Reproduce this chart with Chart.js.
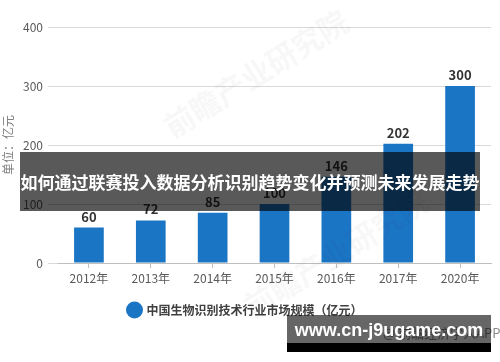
<!DOCTYPE html>
<html>
<head>
<meta charset="utf-8">
<script src="https://cdn.jsdelivr.net/npm/chart.js@4"></script>
<style>
  html,body{margin:0;padding:0;background:#fff;}
  #wrap{position:relative;width:500px;height:362px;overflow:hidden;font-family:"Noto Sans CJK SC","Noto Sans",sans-serif;}
  canvas{position:absolute;left:0;top:0;}
  .wm{position:absolute;color:rgba(0,0,0,0.03);font-weight:bold;font-size:30px;transform:rotate(-32deg);white-space:nowrap;}
  #banner{position:absolute;left:20px;top:152px;width:460px;height:59px;background:rgba(0,0,0,0.65);color:#fff;font-weight:bold;font-size:17px;line-height:59px;text-align:center;white-space:nowrap;}
  #src{position:absolute;left:383px;top:323px;color:#8a8a8a;font-size:13px;white-space:nowrap;}
  #site{position:absolute;left:287px;top:315px;width:204px;height:28px;background:rgba(0,0,0,0.6);color:#fff;font-family:"Liberation Sans",Arial,sans-serif;font-weight:bold;font-size:18px;line-height:30px;text-align:center;}
  #strip{position:absolute;left:287px;top:343px;width:204px;height:9px;background:#000;}
</style>
</head>
<body>
<div id="wrap">
  <canvas id="c" width="500" height="362"></canvas>
  <div class="wm" style="left:150px;top:50px;">前瞻产业研究院</div>
  <div class="wm" style="left:230px;top:230px;">前瞻产业研究院</div>
  <div id="banner">如何通过联赛投入数据分析识别趋势变化并预测未来发展走势</div>
  <div id="src">@ 前瞻经济学人APP</div>
  <div id="site">www.cn-j9ugame.com</div>
  <div id="strip"></div>
</div>
<script>
const categories = ['2012年','2013年','2014年','2015年','2016年','2017年','2020年'];
const marketSize = [60, 72, 85, 100, 146, 202, 300];
const seriesName = '中国生物识别技术行业市场规模（亿元）';
const yAxisTitle = '单位：亿元';
const yMin = 0, yMax = 400, yStep = 100;

const FONT = '"Noto Sans CJK SC","Noto Sans",sans-serif';

const valueLabels = {
  id: 'valueLabels',
  afterDatasetsDraw(chart) {
    const ctx = chart.ctx;
    const meta = chart.getDatasetMeta(0);
    ctx.save();
    ctx.font = 'bold 13px ' + FONT;
    ctx.fillStyle = '#333333';
    ctx.textAlign = 'center';
    ctx.textBaseline = 'middle';
    meta.data.forEach((bar, i) => {
      ctx.fillText(String(chart.data.datasets[0].data[i]), bar.x, bar.y - 11);
    });
    ctx.restore();
  }
};

new Chart(document.getElementById('c'), {
  type: 'bar',
  data: {
    labels: categories,
    datasets: [{
      label: seriesName,
      data: marketSize,
      backgroundColor: '#1B75C5',
      borderWidth: 0,
      categoryPercentage: 1,
      barPercentage: 0.48
    }]
  },
  options: {
    responsive: false,
    maintainAspectRatio: false,
    animation: false,
    devicePixelRatio: 1,
    layout: { padding: { top: 27, right: 9, bottom: 36, left: 0 } },
    plugins: {
      tooltip: { enabled: false },
      legend: {
        position: 'bottom',
        labels: {
          usePointStyle: true,
          pointStyle: 'circle',
          boxWidth: 12,
          boxHeight: 12,
          padding: 10,
          color: '#404040',
          font: { family: FONT, size: 12, weight: '600' }
        }
      }
    },
    scales: {
      x: {
        grid: { display: true, drawOnChartArea: false, offset: false, tickLength: 5, color: '#bfbfbf' },
        border: { color: '#bfbfbf' },
        ticks: { color: '#595959', padding: 3, font: { family: FONT, size: 12 } },
        afterFit(s) { s.height = 31; }
      },
      y: {
        min: yMin, max: yMax,
        grid: { color: '#d9d9d9', tickLength: 10 },
        border: { display: false },
        ticks: { stepSize: yStep, color: '#595959', padding: 5, font: { family: FONT, size: 12 } },
        title: { display: true, text: yAxisTitle, color: '#7f7f7f', padding: { top: 1, bottom: 0 }, font: { family: FONT, size: 12 } },
        afterFit(s) { s.width = 58; }
      }
    }
  },
  plugins: [valueLabels]
});
</script>
</body>
</html>
